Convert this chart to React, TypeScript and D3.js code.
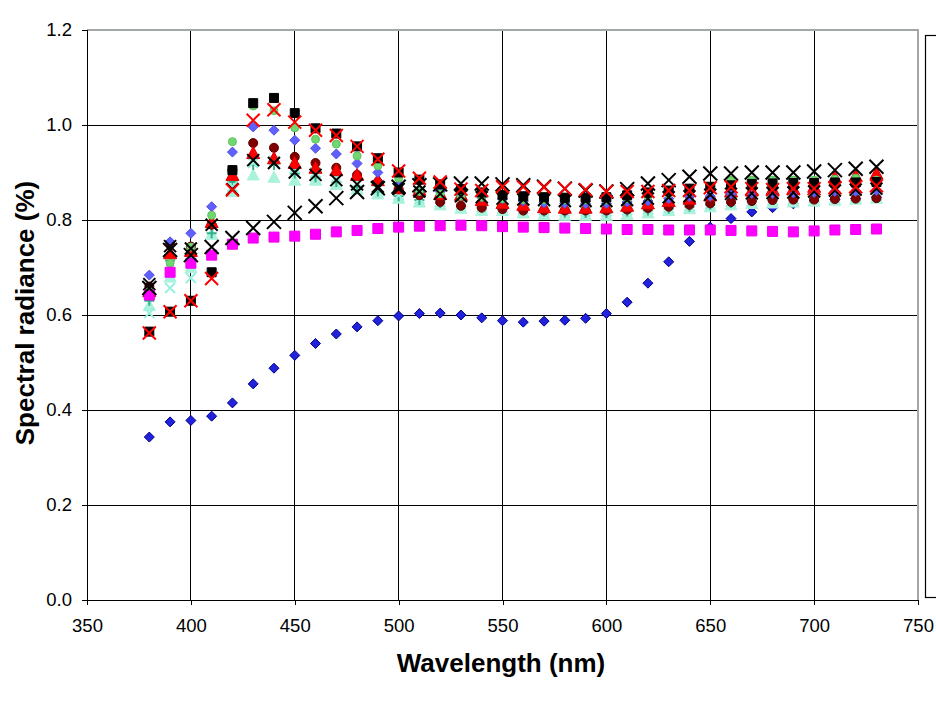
import React, { useEffect, useRef } from 'react';
import * as d3 from 'd3';

// wavelengths (nm) at which every series was measured
const wavelengths = [380, 390, 400, 410, 420, 430, 440, 450, 460, 470, 480, 490, 500, 510, 520, 530, 540, 550,
  560, 570, 580, 590, 600, 610, 620, 630, 640, 650, 660, 670, 680, 690, 700, 710, 720, 730];

const xTicks = [350, 400, 450, 500, 550, 600, 650, 700, 750];
const yTicks = [0, 0.2, 0.4, 0.6, 0.8, 1.0, 1.2];

// series values
const blueLow = [0.343, 0.375, 0.378, 0.387, 0.415, 0.455, 0.488, 0.515, 0.540, 0.560, 0.575, 0.588, 0.598, 0.603, 0.604, 0.600, 0.594, 0.588,
  0.585, 0.587, 0.589, 0.593, 0.603, 0.627, 0.667, 0.712, 0.755, 0.785, 0.803, 0.817, 0.826, 0.834, 0.840, 0.843, 0.845, 0.848];
const paleTri = [0.620, 0.680, 0.700, 0.770, 0.860, 0.895, 0.890, 0.884, 0.884, 0.875, 0.865, 0.855, 0.846, 0.838, 0.832, 0.825, 0.820, 0.820,
  0.815, 0.812, 0.810, 0.810, 0.810, 0.812, 0.815, 0.820, 0.824, 0.828, 0.832, 0.835, 0.836, 0.838, 0.840, 0.842, 0.844, 0.846];
const tealPlus = [0.630, 0.715, 0.730, 0.772, 0.880, 0.916, 0.916, 0.898, 0.890, 0.880, 0.870, 0.860, 0.850, 0.842, 0.836, 0.830, 0.826, 0.823,
  0.820, 0.818, 0.816, 0.815, 0.815, 0.818, 0.820, 0.824, 0.828, 0.832, 0.836, 0.840, 0.842, 0.844, 0.846, 0.848, 0.852, 0.856];
const paleX = [0.604, 0.657, 0.678, 0.726, 0.870, 0.920, 0.925, 0.910, 0.900, 0.890, 0.878, 0.865, 0.852, 0.845, 0.838, 0.832, 0.828, 0.825,
  0.822, 0.820, 0.818, 0.818, 0.818, 0.820, 0.822, 0.826, 0.830, 0.834, 0.838, 0.840, 0.842, 0.844, 0.846, 0.848, 0.850, 0.852];
const maroon = [0.660, 0.750, 0.744, 0.790, 0.905, 0.962, 0.952, 0.933, 0.920, 0.910, 0.895, 0.880, 0.865, 0.852, 0.838, 0.830, 0.826, 0.823,
  0.820, 0.820, 0.820, 0.820, 0.820, 0.822, 0.825, 0.828, 0.832, 0.835, 0.838, 0.840, 0.842, 0.843, 0.843, 0.844, 0.845, 0.846];
const redTri = [0.650, 0.730, 0.735, 0.796, 0.895, 0.941, 0.930, 0.920, 0.910, 0.905, 0.895, 0.884, 0.867, 0.863, 0.855, 0.853, 0.842, 0.836,
  0.832, 0.827, 0.826, 0.826, 0.827, 0.830, 0.835, 0.840, 0.845, 0.852, 0.860, 0.862, 0.865, 0.866, 0.870, 0.890, 0.893, 0.898];
const violetDia = [0.684, 0.754, 0.772, 0.828, 0.943, 0.996, 0.989, 0.968, 0.951, 0.939, 0.919, 0.900, 0.875, 0.862, 0.860, 0.852, 0.848, 0.844,
  0.840, 0.836, 0.835, 0.834, 0.835, 0.838, 0.840, 0.845, 0.849, 0.850, 0.855, 0.856, 0.856, 0.857, 0.858, 0.860, 0.860, 0.862];
const greenCirc = [0.650, 0.709, 0.743, 0.810, 0.965, 1.040, 1.030, 0.994, 0.970, 0.960, 0.935, 0.914, 0.888, 0.860, 0.855, 0.850, 0.848, 0.845,
  0.843, 0.842, 0.842, 0.842, 0.842, 0.845, 0.850, 0.855, 0.862, 0.870, 0.884, 0.884, 0.884, 0.884, 0.884, 0.886, 0.888, 0.884];
const blackSq = [0.565, 0.607, 0.630, 0.690, 0.905, 1.046, 1.057, 1.025, 0.993, 0.982, 0.955, 0.930, 0.900, 0.885, 0.875, 0.865, 0.858, 0.853,
  0.850, 0.848, 0.847, 0.847, 0.848, 0.852, 0.858, 0.862, 0.866, 0.870, 0.873, 0.876, 0.877, 0.878, 0.878, 0.879, 0.879, 0.880];
const blackX2 = [0.665, 0.745, 0.740, 0.790, 0.865, 0.926, 0.920, 0.900, 0.895, 0.884, 0.875, 0.870, 0.865, 0.860, 0.855, 0.850, 0.848, 0.845,
  0.843, 0.842, 0.840, 0.840, 0.840, 0.842, 0.845, 0.848, 0.850, 0.853, 0.855, 0.856, 0.857, 0.858, 0.860, 0.862, 0.864, 0.866];
const magenta = [0.642, 0.690, 0.709, 0.726, 0.749, 0.762, 0.764, 0.766, 0.770, 0.775, 0.778, 0.782, 0.785, 0.787, 0.788, 0.789, 0.788, 0.786,
  0.785, 0.784, 0.783, 0.782, 0.781, 0.780, 0.780, 0.779, 0.779, 0.779, 0.778, 0.777, 0.776, 0.775, 0.777, 0.779, 0.780, 0.781];
const blackX = [0.657, 0.737, 0.726, 0.743, 0.762, 0.783, 0.796, 0.815, 0.829, 0.846, 0.859, 0.867, 0.870, 0.873, 0.875, 0.877, 0.877, 0.875,
  0.873, 0.870, 0.866, 0.862, 0.860, 0.865, 0.877, 0.884, 0.891, 0.898, 0.898, 0.900, 0.900, 0.900, 0.902, 0.905, 0.908, 0.912];
const redX = [0.562, 0.607, 0.630, 0.677, 0.863, 1.010, 1.032, 1.006, 0.989, 0.978, 0.955, 0.928, 0.903, 0.888, 0.880, 0.865, 0.862, 0.870,
  0.870, 0.869, 0.866, 0.864, 0.860, 0.860, 0.860, 0.862, 0.862, 0.868, 0.870, 0.866, 0.864, 0.866, 0.866, 0.868, 0.870, 0.872];

// drawing order = Excel series order (later ones on top)
const series = [
  { values: blueLow, shape: 'diamond', r: 5, fill: '#2222dd', stroke: '#000088' },
  { values: paleTri, shape: 'triangle', r: 6, fill: '#aaf2dc', stroke: '#aaf2dc' },
  { values: tealPlus, shape: 'plus', r: 5, fill: 'none', stroke: '#33b08a' },
  { values: paleX, shape: 'x', r: 5, fill: 'none', stroke: '#99f0e0' },
  { values: maroon, shape: 'circle', r: 4.5, fill: '#800000', stroke: '#600000' },
  { values: redTri, shape: 'triangle', r: 6.5, fill: '#ff0000', stroke: '#dd0000' },
  { values: violetDia, shape: 'diamond', r: 5, fill: '#6060ff', stroke: '#5050e0' },
  { values: greenCirc, shape: 'circle', r: 4, fill: '#70d870', stroke: '#60c060' },
  { values: blackSq, shape: 'square', r: 4.5, fill: '#000000', stroke: '#000000' },
  { values: blackX2, shape: 'x', r: 6, fill: 'none', stroke: '#000000' },
  { values: magenta, shape: 'square', r: 5, fill: '#ff00ff', stroke: '#ee00ee' },
  { values: blackX, shape: 'x', r: 7, fill: 'none', stroke: '#000000' },
  { values: redX, shape: 'x', r: 6.5, fill: 'none', stroke: '#ff0000' },
];

function markerPath(shape: string, r: number) {
  switch (shape) {
    case 'diamond': return `M0,${-r}L${r},0L0,${r}L${-r},0Z`;
    case 'square': return `M${-r},${-r}H${r}V${r}H${-r}Z`;
    case 'triangle': return `M0,${-r}L${r},${r * 0.85}L${-r},${r * 0.85}Z`;
    case 'plus': return `M${-r},0H${r}M0,${-r}V${r}`;
    case 'x': return `M${-r},${-r}L${r},${r}M${r},${-r}L${-r},${r}`;
    default: return d3.arc()({ innerRadius: 0, outerRadius: r, startAngle: 0, endAngle: 2 * Math.PI }) as string;
  }
}

export default function App() {
  const svgRef = useRef<SVGSVGElement>(null);

  useEffect(() => {
    document.body.style.margin = '0';
    const width = 936;
    const height = 702;
    const m = { top: 30, right: 918, bottom: 600, left: 87 };

    const svg = d3.select(svgRef.current).attr('width', width).attr('height', height);
    svg.selectAll('*').remove();

    const x = d3.scaleLinear().domain([350, 750]).range([m.left, m.right]);
    const y = d3.scaleLinear().domain([0, 1.2]).range([m.bottom, m.top]);
    const font = "Arial, 'Liberation Sans', sans-serif";

    svg.append('rect').attr('width', width).attr('height', height).attr('fill', '#fff');

    // grid
    const grid = svg.append('g').attr('shape-rendering', 'crispEdges');
    grid.selectAll('line.v').data(xTicks.slice(1, -1)).join('line')
      .attr('x1', d => x(d)).attr('x2', d => x(d)).attr('y1', m.top).attr('y2', m.bottom)
      .attr('stroke', '#000');
    grid.selectAll('line.h').data(yTicks.slice(1, -1)).join('line')
      .attr('x1', m.left).attr('x2', m.right).attr('y1', d => y(d)).attr('y2', d => y(d))
      .attr('stroke', '#000');
    // plot area border (grey top/right)
    grid.append('path').attr('d', `M${m.left},${m.top}H${m.right}V${m.bottom}`)
      .attr('fill', 'none').attr('stroke', '#a0a8a8').attr('stroke-width', 2);

    // axes
    const xAxis = svg.append('g').attr('transform', `translate(0,${m.bottom})`)
      .call(d3.axisBottom(x).tickValues(xTicks).tickSize(5).tickPadding(14).tickFormat(d3.format('d')));
    const yAxis = svg.append('g').attr('transform', `translate(${m.left},0)`)
      .call(d3.axisLeft(y).tickValues(yTicks).tickSize(5).tickPadding(10).tickFormat(d3.format('.1f')));
    [xAxis, yAxis].forEach(a => {
      a.attr('shape-rendering', 'crispEdges');
      a.select('.domain').attr('stroke', '#000').attr('stroke-width', 1.5);
      a.selectAll('.tick line').attr('stroke', '#000');
      a.selectAll('.tick text').attr('font-family', font).attr('font-size', 18.5).attr('fill', '#000');
    });

    // markers
    series.forEach(s => {
      const g = svg.append('g');
      g.selectAll('path').data(s.values).join('path')
        .attr('transform', (d, i) => `translate(${x(wavelengths[i])},${y(d)})`)
        .attr('d', markerPath(s.shape, s.r))
        .attr('fill', s.fill)
        .attr('stroke', s.stroke)
        .attr('stroke-width', s.shape === 'x' || s.shape === 'plus' ? 2 : 1);
    });

    // titles
    svg.append('text').attr('x', 501).attr('y', 672).attr('text-anchor', 'middle')
      .attr('font-family', font).attr('font-weight', 'bold').attr('font-size', 26)
      .text('Wavelength (nm)');
    svg.append('text').attr('transform', 'translate(34,313) rotate(-90)').attr('text-anchor', 'middle')
      .attr('font-family', font).attr('font-weight', 'bold').attr('font-size', 26)
      .text('Spectral radiance (%)');

    // legend box (cut off at the right edge)
    svg.append('rect').attr('x', 925.5).attr('y', 35.5).attr('width', 40).attr('height', 562)
      .attr('fill', '#fff').attr('stroke', '#000').attr('stroke-width', 1.2);
  }, []);

  return <svg ref={svgRef} style={{ display: 'block' }}></svg>;
}
